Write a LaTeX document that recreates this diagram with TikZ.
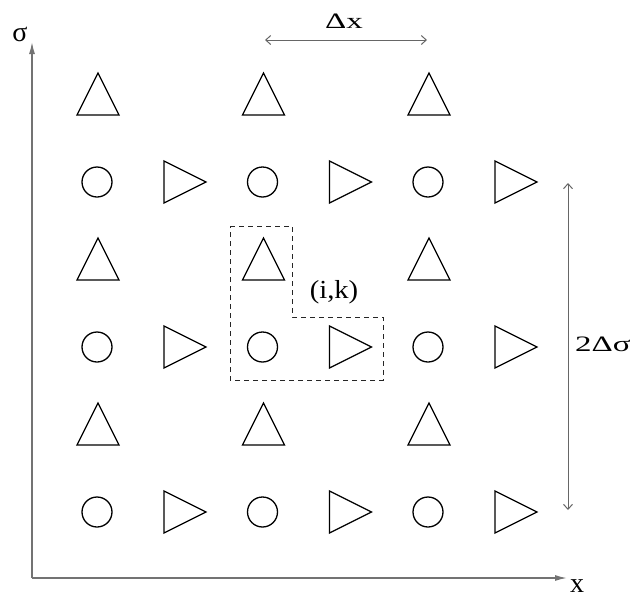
\documentclass[tikz,border=0pt]{standalone}
\usepackage{fontspec}
\setmainfont{Liberation Serif}
\usetikzlibrary{arrows.meta}
\newcommand{\wide}[1]{\scalebox{1.5}[1]{#1}}
\tikzset{
  site/.style={circle,draw,line width=1.3pt,minimum size=30pt,inner sep=0pt},
  tri/.style={line width=1.3pt,line join=miter},
  axis/.style={draw=black!55,line width=1.4pt,-{Latex[length=12pt,width=6pt]}},
  span/.style={draw=black!60,line width=1pt,{Straight Barb[length=5pt,width=9pt]}-{Straight Barb[length=5pt,width=9pt]}},
  biglbl/.style={font=\fontsize{28}{32}\selectfont,inner sep=0pt,anchor=base},
  lbl/.style={font=\fontsize{22}{26}\selectfont,inner sep=0pt,anchor=base}
}
\begin{document}
\begin{tikzpicture}[x=1pt,y=-1pt]
    \useasboundingbox (0,0) rectangle (630,598);
    % axes
    \coordinate (o) at (32,578);
    \coordinate (sigtop) at (32,42);
    \coordinate (xend) at (567,578);
    \draw[axis] (o) -- (sigtop);
    \draw[axis] (o) -- (xend);
    \node[biglbl] (siglbl) at (20,41) {σ};
    \node[biglbl] (xlbl) at (577,592) {x};
    % lattice: circles, right and up triangles
    \foreach \i/\cx in {0/97,1/262.5,2/428}{
        \foreach \j/\cy in {0/182,1/347,2/512}{
            \node[site] (c\i\j) at (\cx,\cy) {};
            \draw[tri] (\cx+67,\cy-21) -- (\cx+109,\cy) -- (\cx+67,\cy+21) -- cycle;
            \draw[tri] (\cx-20,\cy-67) -- (\cx+1,\cy-109) -- (\cx+22,\cy-67) -- cycle;
        }
    }
    % cell (i,k)
    \draw[dash pattern=on 5pt off 4pt,black!85,line width=1pt] (230,226) -- (292,226) -- (292,317)
        -- (383,317) -- (383,380) -- (230,380) -- cycle;
    \node[font=\fontsize{26}{30}\selectfont,inner sep=0pt,anchor=base] (ik) at (334,298) {\scalebox{1.1}[1]{(i,k)}};
    % spacings
    \coordinate (dxa) at (265,40);
    \coordinate (dxb) at (427,40);
    \draw[span] (dxa) -- (dxb);
    \node[lbl] (dxlbl) at (344,28) {\wide{Δx}};
    \coordinate (dsa) at (568,183);
    \coordinate (dsb) at (568,510);
    \draw[span] (dsa) -- (dsb);
    \node[lbl] (dslbl) at (603,351) {\wide{2Δσ}};
\end{tikzpicture}
\end{document}
